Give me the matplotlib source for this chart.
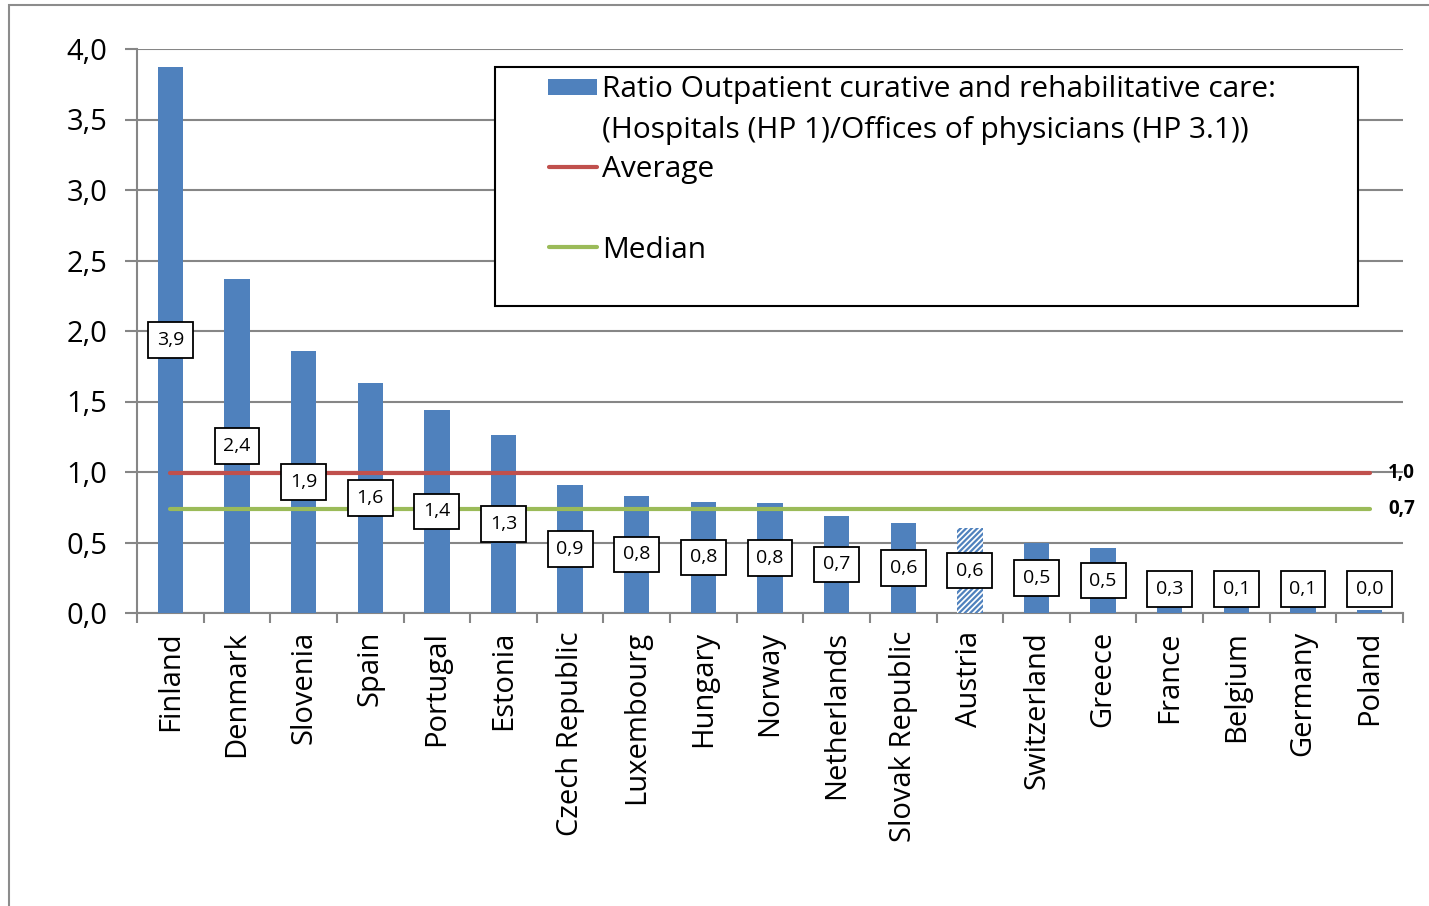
import numpy as np
import matplotlib
matplotlib.use("Agg")
import matplotlib.pyplot as plt
from matplotlib.patches import Rectangle
from matplotlib.lines import Line2D

plt.rcParams['font.family'] = ['Open Sans', 'DejaVu Sans']
plt.rcParams['hatch.linewidth'] = 1.6

# data
countries = ["Finland", "Denmark", "Slovenia", "Spain", "Portugal", "Estonia",
             "Czech Republic", "Luxembourg", "Hungary", "Norway", "Netherlands",
             "Slovak Republic", "Austria", "Switzerland", "Greece", "France",
             "Belgium", "Germany", "Poland"]
ratio = [3.87, 2.37, 1.86, 1.63, 1.44, 1.26, 0.91, 0.83, 0.79, 0.78, 0.69,
         0.64, 0.60, 0.50, 0.46, 0.28, 0.09, 0.08, 0.02]
hatched = ["Austria"]
average = 0.99
median = 0.74
yticks = [0.0, 0.5, 1.0, 1.5, 2.0, 2.5, 3.0, 3.5, 4.0]

BLUE = "#4F81BD"
RED = "#C0504D"
GREEN = "#9BBB59"
GRID = "#868686"

W, H = 1429, 906
fig = plt.figure(figsize=(W / 100, H / 100), dpi=100)


def fx(x):
    return x / W


def fy(y):
    return 1 - y / H


# outer chart border
fig.patches.append(Rectangle((fx(9), fy(960)), fx(1440) - fx(9), fy(5) - fy(960),
                             transform=fig.transFigure, fill=False,
                             edgecolor="#8c8c8c", lw=1.5))

ax = fig.add_axes([fx(137), fy(613), fx(1403) - fx(137), fy(49) - fy(613)])

x = np.arange(len(countries))
for i, (c, v) in enumerate(zip(countries, ratio)):
    if c in hatched:
        ax.bar(i, v, width=0.38, color="white", edgecolor=BLUE, hatch="//////",
               lw=0, zorder=3)
    else:
        ax.bar(i, v, width=0.38, color=BLUE, zorder=3)

ax.plot([x[0], x[-1]], [average, average], color=RED, lw=3, zorder=4,
        solid_capstyle="round")
ax.plot([x[0], x[-1]], [median, median], color=GREEN, lw=3, zorder=4,
        solid_capstyle="round")

# value boxes at the middle of each bar
for i, v in enumerate(ratio):
    ypos = max(v / 2, 0.17)
    ax.text(i, ypos, f"{v:.1f}".replace(".", ","), ha="center", va="center",
            fontsize=14, zorder=6,
            bbox=dict(boxstyle="square,pad=0.45", fc="white", ec="black", lw=1.3))

ax.text(len(countries) - 0.72, average, f"{average:.1f}".replace(".", ","),
        fontsize=13.5, fontweight="bold", va="center", ha="left", clip_on=False)
ax.text(len(countries) - 0.72, median, f"{median:.1f}".replace(".", ","),
        fontsize=13.5, fontweight="bold", va="center", ha="left", clip_on=False)

ax.set_xlim(-0.5, len(countries) - 0.5)
ax.set_ylim(0, 4.0)
ax.set_yticks(yticks)
ax.set_yticklabels([f"{t:.1f}".replace(".", ",") for t in yticks], fontsize=21)
ax.yaxis.grid(True, color=GRID, lw=1.5, zorder=0)
ax.set_axisbelow(True)

ax.set_xticks(x)
ax.set_xticklabels(countries, rotation=90, fontsize=21)
ax.set_xticks(np.arange(len(countries) + 1) - 0.5, minor=True)
ax.tick_params(axis="x", which="major", length=0, pad=13)
ax.tick_params(axis="x", which="minor", length=7, width=1.5, color=GRID)
ax.tick_params(axis="y", length=8.5, width=1.5, color=GRID, pad=13)

for s in ["top", "right"]:
    ax.spines[s].set_visible(False)
for s in ["left", "bottom"]:
    ax.spines[s].set_color(GRID)
    ax.spines[s].set_linewidth(1.5)

# legend drawn by hand to match the boxed layout
fig.patches.append(Rectangle((fx(495), fy(306)), fx(1358) - fx(495), fy(67) - fy(306),
                             transform=fig.transFigure, fc="white", ec="black",
                             lw=1.5, zorder=10))
fig.patches.append(Rectangle((fx(548), fy(95)), fx(597) - fx(548), fy(79) - fy(95),
                             transform=fig.transFigure, fc=BLUE, ec="none", zorder=11))
fig.lines.append(Line2D([fx(549), fx(597)], [fy(167), fy(167)], transform=fig.transFigure,
                        color=RED, lw=3, zorder=11, solid_capstyle="round"))
fig.lines.append(Line2D([fx(549), fx(597)], [fy(247), fy(247)], transform=fig.transFigure,
                        color=GREEN, lw=3, zorder=11, solid_capstyle="round"))
leg_font = 21.5
fig.text(fx(602), fy(89), "Ratio Outpatient curative and rehabilitative care:",
         fontsize=leg_font, va="center", zorder=12)
fig.text(fx(602), fy(130), "(Hospitals (HP 1)/Offices of physicians (HP 3.1))",
         fontsize=leg_font, va="center", zorder=12)
fig.text(fx(602), fy(169), "Average", fontsize=leg_font, va="center", zorder=12)
fig.text(fx(602), fy(250), "Median", fontsize=leg_font, va="center", zorder=12)

fig.savefig("out.png", dpi=100)
